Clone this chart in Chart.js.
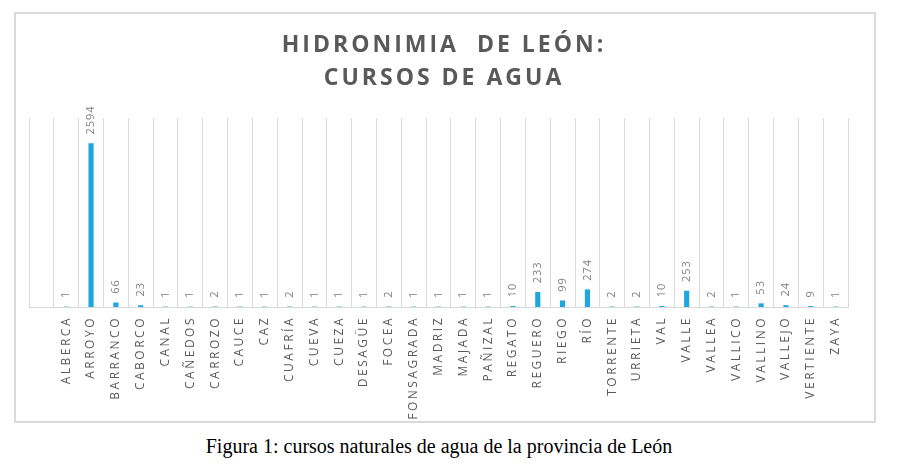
<!DOCTYPE html>
<html>
<head>
<meta charset="utf-8">
<script src="https://cdn.jsdelivr.net/npm/chart.js@4"></script>
<style>
  html, body { margin: 0; padding: 0; background: #ffffff; }
  body { width: 899px; height: 472px; position: relative; overflow: hidden; }
  #frame { position: absolute; left: 14px; top: 12px; width: 862px; height: 411px; box-sizing: border-box; border: 2px solid #dadada; }
  #c { position: absolute; left: 0; top: 0; }
  #caption { position: absolute; left: 0; width: 878px; top: 435px; text-align: center;
             font-family: "Liberation Serif", "Times New Roman", serif; font-size: 20px; color: #000; }
</style>
</head>
<body>
<div id="frame"></div>
<canvas id="c" width="899" height="430"></canvas>
<div id="caption">Figura 1: cursos naturales de agua de la provincia de León</div>
<script>
const titleLines = ['HIDRONIMIA  DE LEÓN:', 'CURSOS DE AGUA'];
const categories = ['', 'ALBERCA', 'ARROYO', 'BARRANCO', 'CABORCO', 'CANAL', 'CAÑEDOS', 'CARROZO', 'CAUCE', 'CAZ',
  'CUAFRÍA', 'CUEVA', 'CUEZA', 'DESAGÜE', 'FOCEA', 'FONSAGRADA', 'MADRIZ', 'MAJADA', 'PAÑIZAL', 'REGATO',
  'REGUERO', 'RIEGO', 'RÍO', 'TORRENTE', 'URRIETA', 'VAL', 'VALLE', 'VALLEA', 'VALLICO', 'VALLINO',
  'VALLEJO', 'VERTIENTE', 'ZAYA'];
const counts = [null, 1, 2594, 66, 23, 1, 1, 2, 1, 1,
  2, 1, 1, 1, 2, 1, 1, 1, 1, 10,
  233, 99, 274, 2, 2, 10, 253, 2, 1, 53,
  24, 9, 1];
const yMax = 3000;

const spacingPlugin = {
  id: 'spacing',
  beforeDraw(chart) {
    chart.ctx.letterSpacing = '2.5px';
    const tb = chart.titleBlock;
    if (tb && !tb._spacedDraw) {
      const orig = tb.draw.bind(tb);
      tb.draw = function () {
        const c = this.ctx;
        const prev = c.letterSpacing;
        c.letterSpacing = '3px';
        orig();
        c.letterSpacing = prev;
      };
      tb._spacedDraw = true;
    }
  }
};

const labelPlugin = {
  id: 'barLabels',
  afterDatasetsDraw(chart) {
    const ctx = chart.ctx;
    const meta = chart.getDatasetMeta(0);
    const data = chart.data.datasets[0].data;
    ctx.save();
    ctx.letterSpacing = '1px';
    ctx.font = '11px "Open Sans"';
    ctx.fillStyle = '#808080';
    ctx.textAlign = 'left';
    ctx.textBaseline = 'middle';
    meta.data.forEach((bar, i) => {
      const v = data[i];
      if (v === null || v === undefined) return;
      ctx.save();
      ctx.translate(bar.x, bar.y - 9);
      ctx.rotate(-Math.PI / 2);
      ctx.fillText(String(v), 0, 0);
      ctx.restore();
    });
    ctx.restore();
  }
};

new Chart(document.getElementById('c'), {
  type: 'bar',
  data: {
    labels: categories,
    datasets: [{
      data: counts,
      backgroundColor: '#1ea7df',
      borderWidth: 0,
      barThickness: 4.5
    }]
  },
  options: {
    responsive: false,
    animation: false,
    devicePixelRatio: 1,
    layout: { padding: { left: 29, right: 40, top: 0, bottom: 0 } },
    plugins: {
      legend: { display: false },
      tooltip: { enabled: false },
      title: {
        display: true,
        text: titleLines,
        color: '#595959',
        font: { family: '"Open Sans"', size: 23, weight: 'bold', lineHeight: '33px' },
        padding: { top: 29, bottom: 23 }
      }
    },
    scales: {
      x: {
        grid: { color: '#d9d9d9', lineWidth: 1, drawTicks: false, offset: true },
        border: { color: '#d9d9d9', width: 1 },
        ticks: {
          autoSkip: false, minRotation: 90, maxRotation: 90, padding: 9,
          color: '#595959', font: { family: '"Open Sans"', size: 12 }
        },
        afterFit(scale) { scale.height = 123; }
      },
      y: {
        position: 'right',
        min: 0, max: yMax,
        grid: { display: false },
        border: { display: false },
        ticks: { display: false },
        afterFit(scale) { scale.width = 11; }
      }
    }
  },
  plugins: [spacingPlugin, labelPlugin]
});
</script>
</body>
</html>
